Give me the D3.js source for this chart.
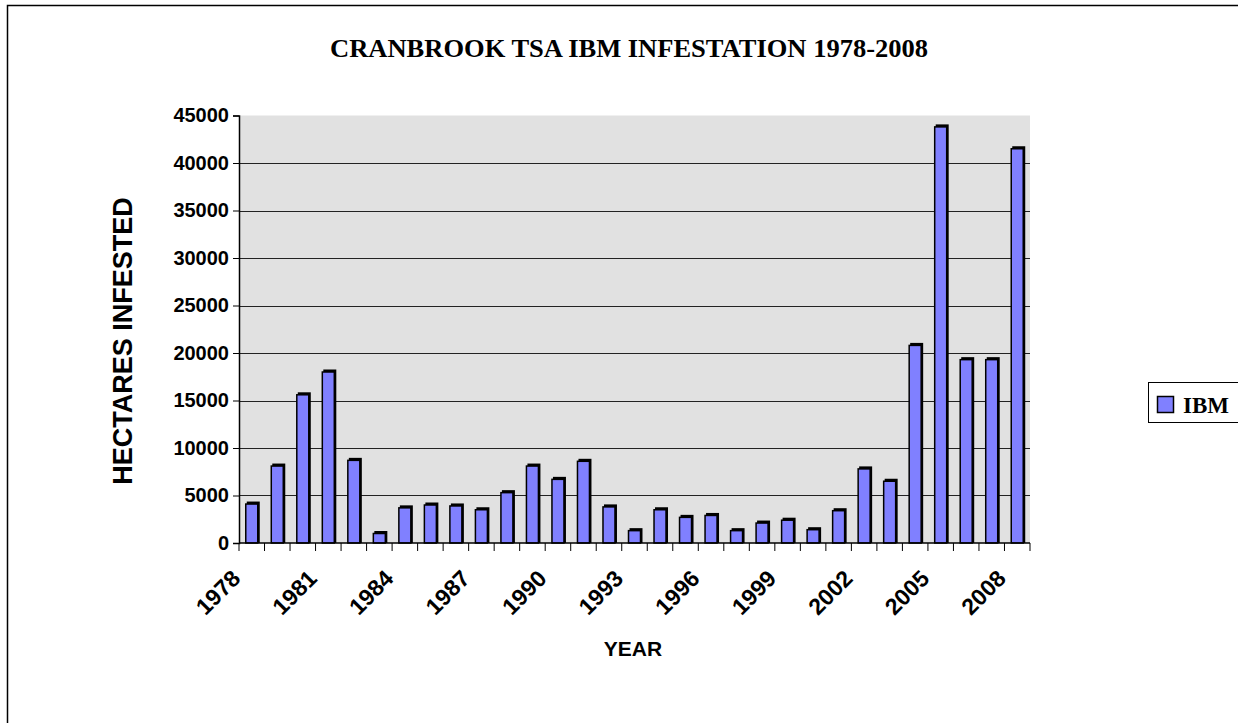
<!DOCTYPE html>
<html>
<head>
<meta charset="utf-8">
<script src="https://cdn.jsdelivr.net/npm/d3@7"></script>
<style>
  body { margin: 0; background: #fff; }
  svg { display: block; }
</style>
</head>
<body>
<svg id="chart"></svg>
<script>
// years and hectares
var years = ["1978","1979","1980","1981","1982","1983","1984","1985","1986","1987",
  "1988","1989","1990","1991","1992","1993","1994","1995","1996","1997",
  "1998","1999","2000","2001","2002","2003","2004","2005","2006","2007","2008"];
var ibm = [4100, 8100, 15600, 18000, 8700, 1000, 3700, 4000, 3900, 3500,
  5300, 8100, 6700, 8600, 3800, 1300, 3500, 2700, 2900, 1300,
  2100, 2400, 1400, 3400, 7800, 6500, 20800, 43800, 19300, 19300, 41500];
var yTicks = [0, 5000, 10000, 15000, 20000, 25000, 30000, 35000, 40000, 45000];
var xLabels = ["1978","1981","1984","1987","1990","1993","1996","1999","2002","2005","2008"];

var W = 1238, H = 723;
var plotL = 239, plotR = 1030, plotT = 115.5, plotB = 543;

var svg = d3.select("#chart").attr("width", W).attr("height", H);

// outer frame
svg.append("rect")
  .attr("x", 7.5).attr("y", 5.5)
  .attr("width", W).attr("height", H)
  .attr("fill", "none").attr("stroke", "#000").attr("stroke-width", 1.5);

var x = d3.scaleBand().domain(years).range([plotL, plotR]).paddingInner(0).paddingOuter(0);
var y = d3.scaleLinear().domain([0, 45000]).range([plotB, plotT]);

// plot background
svg.append("rect")
  .attr("x", plotL).attr("y", y(45000))
  .attr("width", plotR - plotL).attr("height", y(0) - y(45000))
  .attr("fill", "#e1e1e1");

// gridlines
svg.append("g")
  .selectAll("line")
  .data(yTicks.filter(d => d > 0 && d < 45000))
  .enter().append("line")
  .attr("x1", plotL).attr("x2", plotR)
  .attr("y1", d => Math.round(y(d)) + 0.5).attr("y2", d => Math.round(y(d)) + 0.5)
  .attr("stroke", "#222").attr("stroke-width", 1);

// bars
var bw = x.bandwidth() * 0.47;
var bars = svg.append("g").selectAll("g")
  .data(years.map((yr, i) => ({ year: yr, value: ibm[i] })))
  .enter().append("g");

bars.append("rect")  // dark depth edge
  .attr("x", d => x(d.year) + (x.bandwidth() - bw) / 2 + 1)
  .attr("y", d => y(d.value) - 2.5)
  .attr("width", bw + 1)
  .attr("height", d => y(0) - y(d.value) + 2.5)
  .attr("fill", "#000");

bars.append("rect")
  .attr("x", d => x(d.year) + (x.bandwidth() - bw) / 2)
  .attr("y", d => y(d.value))
  .attr("width", bw)
  .attr("height", d => y(0) - y(d.value))
  .attr("fill", "#8080ff")
  .attr("stroke", "#000").attr("stroke-width", 1.5);

// y axis
var yAxis = svg.append("g")
  .attr("transform", "translate(" + plotL + ",0)")
  .call(d3.axisLeft(y).tickValues(yTicks).tickSize(6).tickPadding(4).tickFormat(d3.format("d")));
yAxis.select(".domain").attr("stroke", "#000").attr("stroke-width", 1.5);
yAxis.selectAll(".tick line").attr("stroke", "#000");
yAxis.selectAll("text")
  .attr("font-family", "Liberation Sans, Arial, sans-serif")
  .attr("font-weight", "bold").attr("font-size", 20).attr("fill", "#000");

// x axis: ticks at category boundaries
var bounds = years.map(d => x(d)).concat([plotR]);
svg.append("line")
  .attr("x1", plotL).attr("x2", plotR)
  .attr("y1", plotB).attr("y2", plotB)
  .attr("stroke", "#000").attr("stroke-width", 1.5);
svg.append("g").selectAll("line")
  .data(bounds).enter().append("line")
  .attr("x1", d => d).attr("x2", d => d)
  .attr("y1", plotB).attr("y2", plotB + 8)
  .attr("stroke", "#000");

svg.append("g").selectAll("text")
  .data(xLabels).enter().append("text")
  .attr("transform", d => "translate(" + (x(d) + x.bandwidth() / 2 - 10) + "," + (plotB + 37) + ") rotate(-45)")
  .attr("text-anchor", "end")
  .attr("font-family", "Liberation Sans, Arial, sans-serif")
  .attr("font-weight", "bold").attr("font-size", 23)
  .text(d => d);

// titles
svg.append("text")
  .attr("x", 629).attr("y", 57)
  .attr("text-anchor", "middle")
  .attr("font-family", "Liberation Serif, Times New Roman, serif")
  .attr("font-weight", "bold").attr("font-size", 25)
  .attr("textLength", 598).attr("lengthAdjust", "spacingAndGlyphs")
  .text("CRANBROOK TSA IBM INFESTATION 1978-2008");

svg.append("text")
  .attr("transform", "translate(132,341) rotate(-90)")
  .attr("text-anchor", "middle")
  .attr("font-family", "Liberation Sans, Arial, sans-serif")
  .attr("font-weight", "bold").attr("font-size", 27)
  .text("HECTARES INFESTED");

svg.append("text")
  .attr("x", 633).attr("y", 656)
  .attr("text-anchor", "middle")
  .attr("font-family", "Liberation Sans, Arial, sans-serif")
  .attr("font-weight", "bold").attr("font-size", 21)
  .text("YEAR");

// legend
var lg = svg.append("g");
lg.append("rect")
  .attr("x", 1148.5).attr("y", 382.5).attr("width", 100).attr("height", 40)
  .attr("fill", "#fff").attr("stroke", "#000").attr("stroke-width", 1);
lg.append("rect")
  .attr("x", 1157.5).attr("y", 396.5).attr("width", 16).attr("height", 16)
  .attr("fill", "#8080ff").attr("stroke", "#000").attr("stroke-width", 1.5);
lg.append("text")
  .attr("x", 1183).attr("y", 413)
  .attr("font-family", "Liberation Serif, Times New Roman, serif")
  .attr("font-weight", "bold").attr("font-size", 23)
  .text("IBM");
</script>
</body>
</html>
